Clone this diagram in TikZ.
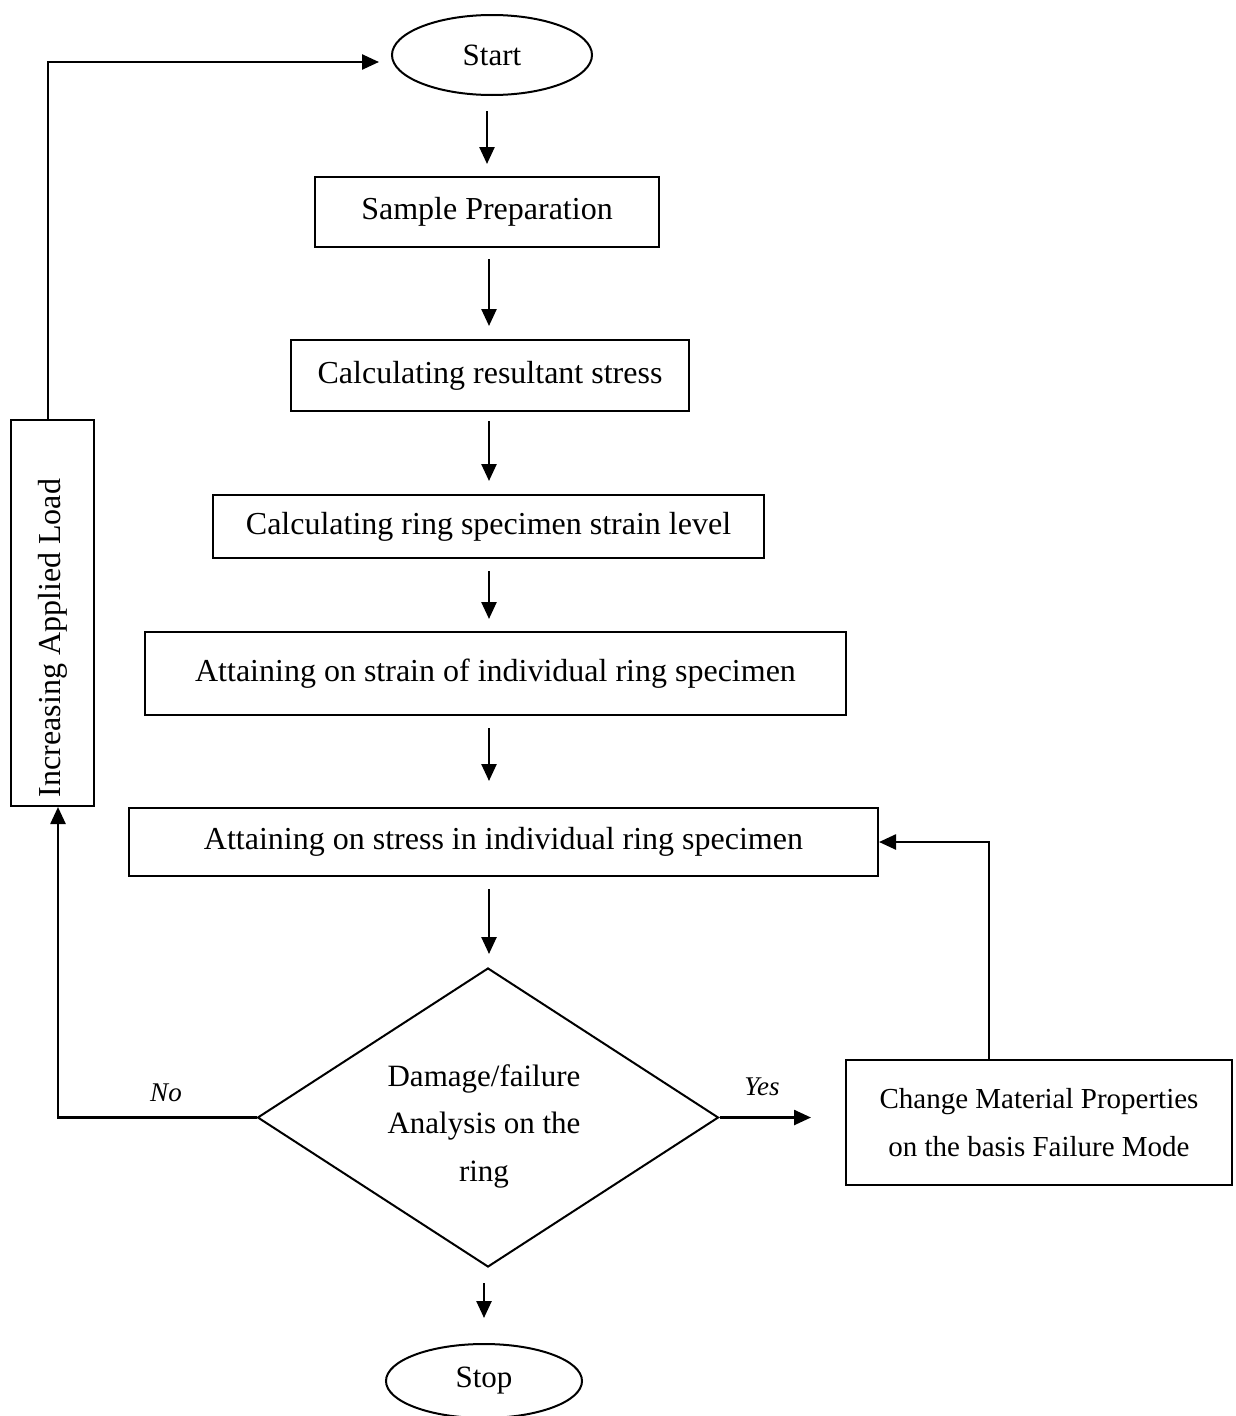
\documentclass[tikz,border=0pt]{standalone}
\usepackage{fontspec}
\setmainfont{Liberation Serif}
\usetikzlibrary{shapes.geometric,arrows.meta,calc}
\begin{document}
\begin{tikzpicture}[x=1pt,y=-1pt,
  box/.style={draw,line width=2pt,inner sep=0pt,font=\fontsize{32}{38}\selectfont},
  oval/.style={draw,ellipse,line width=2pt,inner sep=0pt,font=\fontsize{31}{38}\selectfont},
  arr/.style={line width=2.5pt,-{Triangle[length=17pt,width=15pt]}},
  lab/.style={font=\fontsize{27}{32}\selectfont\itshape}]
\useasboundingbox (0,0) rectangle (1235,1416);
\fill[white] (0,0) rectangle (1235,1416);
\node[oval,minimum width=200,minimum height=80] (start) at (492,55) {Start};
\node[box,minimum width=344,minimum height=70] (s1) at (487,212) {Sample Preparation};
\node[box,minimum width=398,minimum height=71] (s2) at (490,375.5) {Calculating resultant stress};
\node[box,minimum width=551,minimum height=63] (s3) at (488.5,526.5) {Calculating ring specimen strain level};
\node[box,minimum width=701,minimum height=83] (s4) at (495.5,673.5) {Attaining on strain of individual ring specimen};
\node[box,minimum width=749,minimum height=68] (s5) at (503.5,842) {Attaining on stress in individual ring specimen};
\node[draw,diamond,line width=2pt,inner sep=0pt,minimum width=461,minimum height=299,aspect=1.54] (dec) at (488,1117.5) {};
\node[align=center,font=\fontsize{31}{47.5}\selectfont] (dectext) at (484,1126) {Damage/failure\\Analysis on the\\ring};
\node[box,minimum width=386,minimum height=125,align=center,font=\fontsize{29}{48}\selectfont] (chg) at (1039,1122.5)
  {Change Material Properties\\on the basis Failure Mode};
\node[box,minimum width=386,minimum height=83,rotate=90] (inc) at (52.5,613) {};
\node[rotate=90,inner sep=0pt,font=\fontsize{32}{38}\selectfont] (inctext) at (53,638) {Increasing Applied Load};
\node[oval,minimum width=196,minimum height=74] (stop) at (484,1381) {Stop};
\coordinate (ax) at (489,0);
\draw[arr] ([yshift=-15pt]start.south -| 487,0) -- ([yshift=12pt]s1.north -| 487,0);
\draw[arr] ([yshift=-11pt]s1.south -| ax) -- ([yshift=13pt]s2.north -| ax);
\draw[arr] ([yshift=-9pt]s2.south -| ax) -- ([yshift=13pt]s3.north -| ax);
\draw[arr] ([yshift=-12pt]s3.south -| ax) -- ([yshift=12pt]s4.north -| ax);
\draw[arr] ([yshift=-12pt]s4.south -| ax) -- ([yshift=26pt]s5.north -| ax);
\draw[arr] ([yshift=-12pt]s5.south -| ax) -- ([yshift=13pt]dec.north -| ax);
\draw[arr] ([yshift=-15pt]dec.south -| 484,0) -- ([yshift=25pt]stop.north -| 484,0);
\draw[arr] (dec.east) -- ([xshift=-34pt]chg.west |- dec.east);
\draw[arr] (chg.north -| 989,0) |- (s5.east);
\draw[arr] (dec.west) -| (inc.west -| 58,0);
\coordinate (ltop) at (48,62);
\draw[arr] (inc.east -| 48,0) -- (ltop) -- ([xshift=-12pt]start.west |- ltop);
\node[lab] (no) at (166,1093) {No};
\node[lab] (yes) at (762,1087) {Yes};
\end{tikzpicture}
\end{document}
